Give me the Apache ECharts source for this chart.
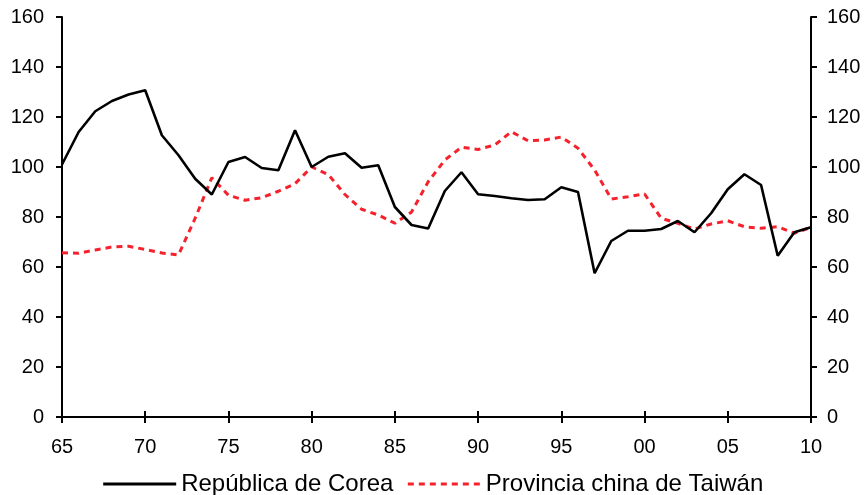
<!DOCTYPE html>
<html>
<head>
<meta charset="utf-8">
<script src="https://cdn.jsdelivr.net/npm/echarts@6/dist/echarts.min.js"></script>
<style>
html,body{margin:0;padding:0;background:#fff;}
#chart{width:865px;height:495px;}
</style>
</head>
<body>
<div id="chart"></div>
<script>
var years = [1965,1966,1967,1968,1969,1970,1971,1972,1973,1974,1975,1976,1977,1978,1979,1980,1981,1982,1983,1984,1985,1986,1987,1988,1989,1990,1991,1992,1993,1994,1995,1996,1997,1998,1999,2000,2001,2002,2003,2004,2005,2006,2007,2008,2009,2010];
var corea = [101,114,122.3,126.4,129,130.7,112.7,104.7,95.3,89,102,104,99.6,98.7,114.7,100,104.1,105.5,99.7,100.7,84,76.8,75.4,90.4,97.9,89.1,88.4,87.5,86.8,87.1,91.9,90,57.5,70.4,74.5,74.5,75.2,78.4,73.9,81.5,91.1,97.1,92.8,64.5,73.9,75.9];
var taiwan = [65.7,65.5,66.8,68,68.3,67,65.6,64.8,79.5,95.7,88.7,86.7,87.7,90.3,93.3,100,97,89,83.1,80.8,77.5,82,94.1,102.8,107.9,107,108.8,114.1,110.5,110.8,112,107.5,98.8,87.2,88.1,89.2,79.5,77.5,75.2,77.2,78.5,76.1,75.5,76.1,73.5,75.9];
var seriesNames = ['República de Corea','Provincia china de Taiwán'];

function pairs(xs, ys){ return xs.map(function(x,i){ return [x, ys[i]]; }); }

var FONT = '"Liberation Sans", Arial, sans-serif';
var RED = '#f5222d';
var chart = echarts.init(document.getElementById('chart'), null, {renderer:'canvas'});
var yAxisCommon = {
  type:'value', min:0, max:160, interval:20,
  axisLine:{show:true, lineStyle:{color:'#000', width:2}},
  axisTick:{show:true, length:6, lineStyle:{color:'#000', width:2}},
  splitLine:{show:false},
  axisLabel:{color:'#000', fontSize:20, fontFamily:FONT}
};
chart.setOption({
  animation:false,
  backgroundColor:'#fff',
  grid:{left:62, right:54, top:17, bottom:78},
  legend:{
    top:467, left:'center', itemWidth:73, itemHeight:14, itemGap:13,
    itemStyle:{opacity:0},
    lineStyle:{width:3},
    textStyle:{color:'#000', fontSize:24, fontFamily:FONT},
    data:seriesNames
  },
  xAxis:[{
    type:'value', min:1965, max:2010, interval:5,
    axisLine:{show:true, onZero:false, lineStyle:{color:'#000', width:2}},
    axisTick:{show:true, length:6, lineStyle:{color:'#000', width:2}},
    splitLine:{show:false},
    axisLabel:{color:'#000', fontSize:20, fontFamily:FONT, margin:20,
      formatter:function(v){ return String(v).slice(-2); }}
  },{
    type:'value', min:1965, max:2010, interval:5, position:'bottom',
    axisLine:{show:false, onZero:false},
    axisTick:{show:true, inside:true, length:6, lineStyle:{color:'#000', width:2}},
    axisLabel:{show:false}, splitLine:{show:false}
  }],
  yAxis:[
    Object.assign({}, yAxisCommon, {position:'left', axisLabel:Object.assign({}, yAxisCommon.axisLabel, {margin:18})}),
    Object.assign({}, yAxisCommon, {position:'right', axisLabel:Object.assign({}, yAxisCommon.axisLabel, {margin:16})})
  ],
  series:[{
    name:seriesNames[0], type:'line', xAxisIndex:0, yAxisIndex:0,
    data:pairs(years, corea), symbol:'none', showSymbol:false,
    lineStyle:{color:'#000', width:2.6}, itemStyle:{color:'#000'}, z:3
  },{
    name:seriesNames[1], type:'line', xAxisIndex:0, yAxisIndex:0,
    data:pairs(years, taiwan), symbol:'none', showSymbol:false,
    lineStyle:{color:RED, width:3, type:[6,5]}, itemStyle:{color:RED}, z:2
  }]
});
</script>
</body>
</html>
